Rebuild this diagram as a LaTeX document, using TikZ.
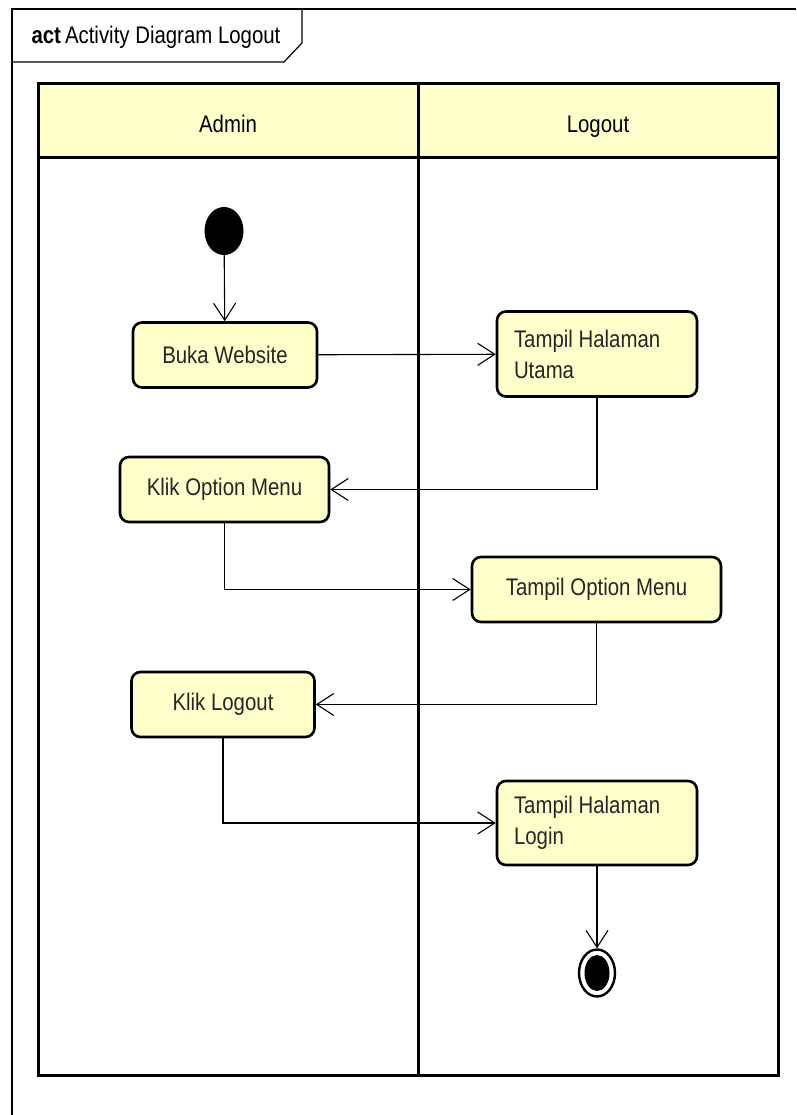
\documentclass[tikz,border=0pt]{standalone}
\usepackage{fontspec}
\setmainfont{Liberation Sans}[FakeStretch=0.85]
\usetikzlibrary{arrows.meta,shapes.geometric}
\definecolor{actyellow}{RGB}{255,255,204}
\newcommand{\umlfont}{\fontsize{24}{31}\selectfont}
\tikzset{
  action/.style={draw, line width=2.6pt, rounded corners=9pt, fill=actyellow,
    inner sep=0pt, font=\umlfont, text=black!85},
  flow/.style={line width=1.1pt, -{Straight Barb[length=17pt,width=22pt,line width=1.1pt]}},
  elbow/.style={to path={|- (\tikztotarget) \tikztonodes}},
}
\begin{document}
\begin{tikzpicture}[x=1pt,y=-1pt]
    \useasboundingbox (0,0) rectangle (796,1115);
    % frame and title
    \draw[line width=1.2pt] (12,1115) -- (12,9) -- (796,9);
    \draw[line width=1.2pt] (12,62) -- (284,62) -- (302,43) -- (302,9);
    \node[anchor=west, font=\umlfont] (T) at (28,37) {\textbf{act}\,Activity Diagram Logout};
    % swimlanes
    \fill[actyellow] (38,84) rectangle (778,158);
    \draw[line width=3pt] (38,84) rectangle (778,1075);
    \draw[line width=3pt] (38,158) -- (778,158);
    \draw[line width=3pt] (418,84) -- (418,1075);
    \node[font=\umlfont, anchor=base] (L0) at (228,133) {Admin};
    \node[font=\umlfont, anchor=base] (L1) at (598,133) {Logout};
    % activities
    \node[ellipse, fill, minimum width=39pt, minimum height=48pt, inner sep=0pt] (A0_0) at (224,231) {};
    \node[action, minimum width=184pt, minimum height=65pt] (A1_0) at (225,355) {Buka Website};
    \node[action, minimum width=200pt, minimum height=85pt, text width=166pt, align=flush left] (A1_1) at (597,354) {Tampil Halaman\\Utama};
    \node[action, minimum width=209pt, minimum height=65pt] (A2_0) at (224.5,489.5) {Klik Option Menu};
    \node[action, minimum width=249pt, minimum height=65pt] (A3_1) at (596.5,589.5) {Tampil Option Menu};
    \node[action, minimum width=183pt, minimum height=65pt] (A4_0) at (223,704.5) {Klik Logout};
    \node[action, minimum width=200pt, minimum height=84pt, text width=166pt, align=flush left] (A5_1) at (597,823) {Tampil Halaman\\Login};
    \node[ellipse, draw, line width=2.4pt, minimum width=36pt, minimum height=47pt, inner sep=0pt,
      path picture={\fill (path picture bounding box.center) ellipse [x radius=12.5pt, y radius=18pt];}] (A6_1) at (597,973) {};
    % flows
    \path (A0_0) edge [flow] (A1_0);
    \path (A1_0) edge [flow] (A1_1);
    \path (A1_1) edge [flow, elbow] (A2_0);
    \path (A2_0) edge [flow, elbow] (A3_1);
    \path (A3_1) edge [flow, elbow] (A4_0);
    \path (A4_0) edge [flow, elbow] (A5_1);
    \path (A5_1) edge [flow] (A6_1);
\end{tikzpicture}
\end{document}
